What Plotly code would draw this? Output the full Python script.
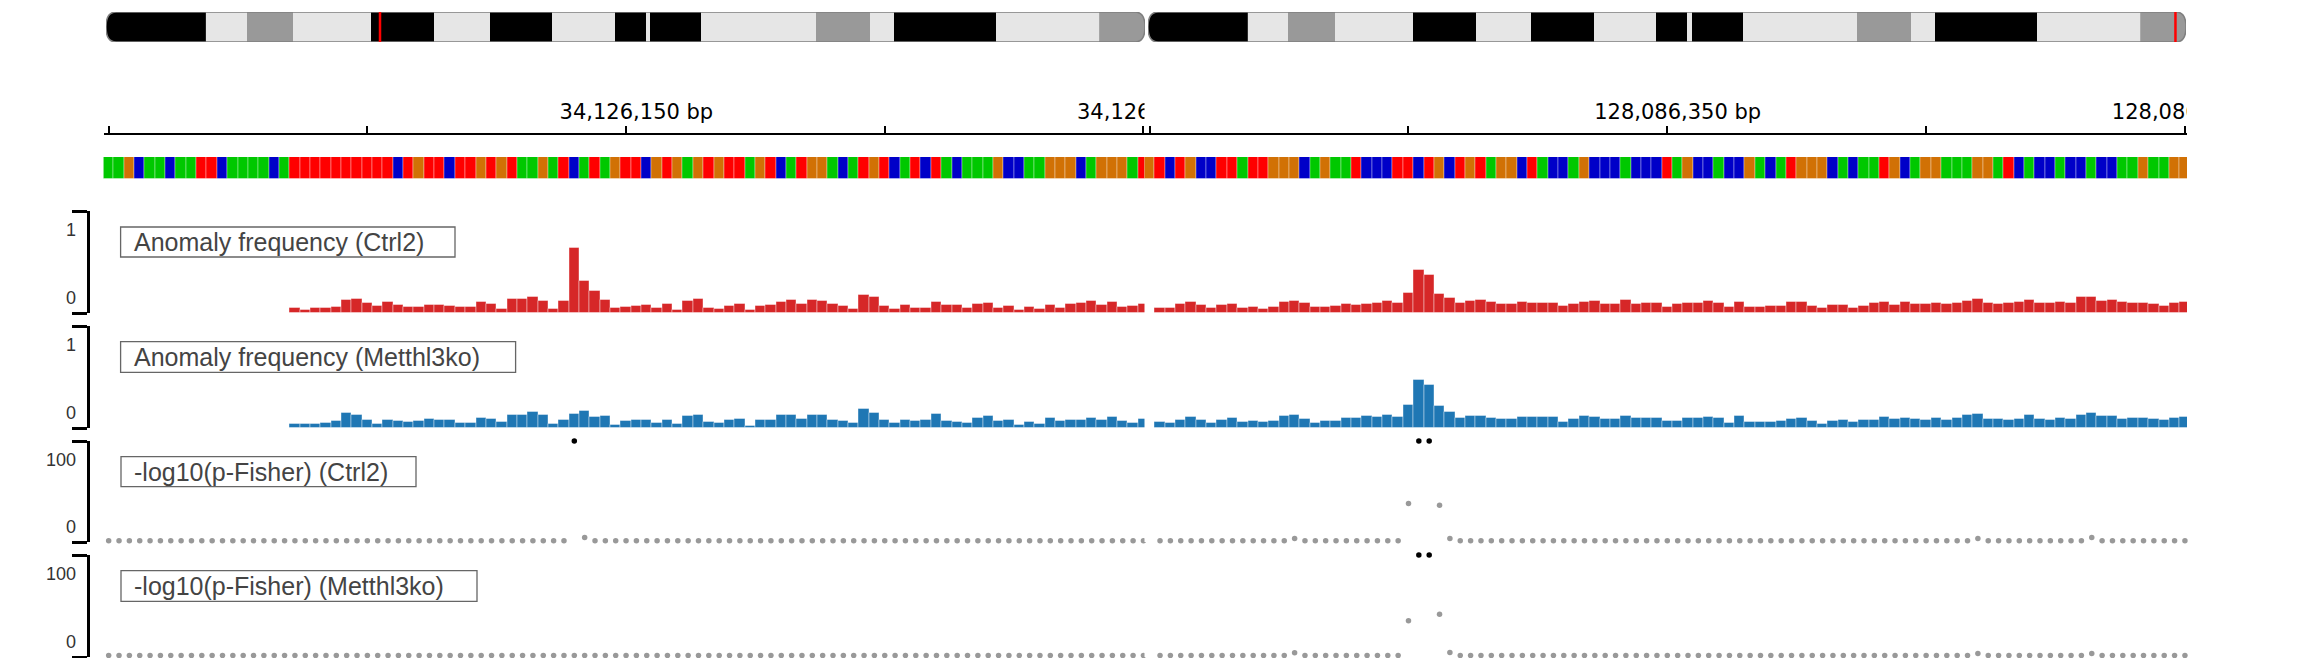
import plotly.graph_objects as go

W, H = 2310, 658

# ------------------------------------------------------------------
# data
# ------------------------------------------------------------------
# chromosome ideogram (chr8, Mb)
CHROM_LEN_MB = 129.401213
BAND_START_MB = [0.0, 12.44, 17.50, 23.31, 33.06, 40.89, 47.80, 55.54, 63.37,
                 67.24, 67.78, 74.15, 88.42, 95.14, 98.09, 110.79, 123.69]
BAND_END_MB = [12.44, 17.50, 23.31, 33.06, 40.89, 47.80, 55.54, 63.37, 67.24,
               67.78, 74.15, 88.42, 95.14, 98.09, 110.79, 123.69, 129.401213]
BAND_STAIN = ["gpos100", "gneg", "gpos50", "gneg", "gpos100", "gneg", "gpos100",
              "gneg", "gpos100", "gneg", "gpos100", "gneg", "gpos50", "gneg",
              "gpos100", "gneg", "gpos50"]
REGION_MARK_MB = [34.12615, 128.08635]

# ruler
TICKS_L = [34126100, 34126125, 34126150, 34126175, 34126200]
TICKS_R = [128086300, 128086325, 128086350, 128086375, 128086400]
LABEL_POS_L = [34126150, 34126200]
LABEL_POS_R = [128086350, 128086400]
LABEL_TXT_L = ["34,126,150 bp", "34,126,200 bp"]
LABEL_TXT_R = ["128,086,350 bp", "128,086,400 bp"]

# reference sequence
SEQ_START_L = 34126100
SEQ_START_R = 128086300
SEQ_L = ("AAGCAACAATTCAAAACA" "TTTTTTTTTT" "CTGTTCTTGTGT" "AAGATCATAG"
         "TTCGTGAGTG" "TTAGTCATGG" "ACATGTCATC" "TACAAAGCCA" "AGGGCAGGGAT")
SEQ_R = ("GTCTGCCTTA" "TTGGGCAGAA" "TCCCTTCTGC" "TGTAGGCTAC" "CAGCCCACCC"
         "TAGCCACCGA" "CATGGGCACA" "ATGCAGGAAA" "GGATCACCAC" "CACCAAGAAGG")

# anomaly frequency
FREQ_START_L = 34126118
FREQ_START_R = 128086301
CTRL2_FREQ_L = [
    0.046, 0.029, 0.046, 0.046, 0.059, 0.131, 0.141, 0.095, 0.072, 0.111,
    0.082, 0.056, 0.056, 0.075, 0.082, 0.069, 0.056, 0.062, 0.105, 0.085,
    0.042, 0.137, 0.137, 0.160, 0.114, 0.039, 0.118, 0.634, 0.317, 0.216,
    0.131, 0.046, 0.059, 0.069, 0.082, 0.046, 0.092, 0.026, 0.121, 0.134,
    0.052, 0.039, 0.069,
    0.092, 0.029, 0.069, 0.082, 0.111, 0.124, 0.092, 0.131, 0.121, 0.092,
    0.065, 0.036, 0.180, 0.154, 0.072, 0.039, 0.078, 0.046, 0.052, 0.105,
    0.075, 0.078, 0.046, 0.088, 0.101, 0.052, 0.065, 0.026, 0.059, 0.039,
    0.082, 0.052, 0.085, 0.101, 0.114, 0.078, 0.105, 0.059, 0.065, 0.092,
]
METTL_FREQ_L = [
    0.039, 0.039, 0.039, 0.052, 0.072, 0.144, 0.131, 0.082, 0.042, 0.075,
    0.072, 0.056, 0.069, 0.092, 0.078, 0.075, 0.049, 0.052, 0.101, 0.088,
    0.056, 0.127, 0.124, 0.154, 0.124, 0.042, 0.078, 0.134, 0.163, 0.105,
    0.114, 0.029, 0.069, 0.078, 0.078, 0.049, 0.082, 0.036, 0.121, 0.124,
    0.056, 0.046, 0.080,
    0.092, 0.023, 0.078, 0.078, 0.131, 0.131, 0.092, 0.127, 0.124, 0.082,
    0.065, 0.046, 0.190, 0.147, 0.075, 0.052, 0.075, 0.069, 0.078, 0.134,
    0.069, 0.059, 0.049, 0.095, 0.121, 0.072, 0.082, 0.033, 0.059, 0.042,
    0.098, 0.065, 0.082, 0.082, 0.095, 0.082, 0.111, 0.072, 0.052, 0.085,
]
CTRL2_FREQ_R = [
    0.052, 0.046, 0.085, 0.105, 0.078, 0.052, 0.075, 0.085, 0.049, 0.056,
    0.039, 0.059, 0.108, 0.118, 0.098, 0.059, 0.062, 0.065, 0.092, 0.078,
    0.092, 0.095, 0.118, 0.095, 0.196, 0.425, 0.373, 0.190, 0.144, 0.095,
    0.114, 0.124, 0.105, 0.085, 0.088, 0.111, 0.101, 0.101, 0.101, 0.065,
    0.088, 0.111, 0.121, 0.092, 0.092, 0.124, 0.092, 0.101, 0.095, 0.059,
    0.085, 0.095, 0.101, 0.118, 0.095, 0.056, 0.111, 0.062, 0.056, 0.065,
    0.072, 0.105, 0.105, 0.065, 0.046, 0.078, 0.075, 0.049, 0.065, 0.101,
    0.105, 0.078, 0.105, 0.092, 0.092, 0.098, 0.092, 0.095, 0.121, 0.141,
    0.098, 0.092, 0.098, 0.105, 0.124, 0.098, 0.101, 0.105, 0.098, 0.154,
    0.154, 0.121, 0.131, 0.105, 0.098, 0.098, 0.092, 0.072, 0.098, 0.105,
]
METTL_FREQ_R = [
    0.056, 0.046, 0.082, 0.111, 0.075, 0.049, 0.082, 0.101, 0.056, 0.069,
    0.056, 0.065, 0.114, 0.124, 0.088, 0.052, 0.069, 0.072, 0.098, 0.095,
    0.121, 0.108, 0.131, 0.105, 0.225, 0.467, 0.425, 0.212, 0.160, 0.098,
    0.121, 0.121, 0.101, 0.085, 0.085, 0.111, 0.111, 0.105, 0.105, 0.059,
    0.092, 0.121, 0.111, 0.088, 0.092, 0.121, 0.095, 0.101, 0.101, 0.069,
    0.072, 0.101, 0.101, 0.111, 0.098, 0.052, 0.114, 0.059, 0.059, 0.059,
    0.065, 0.092, 0.098, 0.072, 0.039, 0.072, 0.082, 0.059, 0.082, 0.082,
    0.111, 0.092, 0.101, 0.088, 0.082, 0.098, 0.082, 0.098, 0.124, 0.137,
    0.085, 0.092, 0.082, 0.088, 0.124, 0.092, 0.078, 0.101, 0.092, 0.131,
    0.147, 0.121, 0.121, 0.092, 0.095, 0.095, 0.092, 0.075, 0.095, 0.111,
]

# -log10(p-Fisher)
PVAL_START_L = 34126100
PVAL_START_R = 128086301
P_CTRL2_L = [
    1.3, 1.3, 1.3, 1.3, 1.3, 1.3, 1.3, 1.3, 1.3, 1.3,
    1.3, 1.3, 1.3, 1.3, 1.3, 1.3, 1.3, 1.3, 1.3, 1.3,
    1.3, 1.3, 1.3, 1.3, 1.3, 1.3, 1.3, 1.3, 1.3, 1.3,
    1.3, 1.3, 1.3, 1.3, 1.3, 1.3, 1.3, 1.3, 1.3, 1.3,
    1.3, 1.3, 1.3, 1.3, 1.3, 180.0, 4.5, 1.3, 1.3, 1.3,
    1.3, 1.3, 1.3, 1.3, 1.3, 1.3, 1.3, 1.3, 1.3, 1.3,
    1.3, 1.3, 1.3, 1.3, 1.3, 1.3, 1.3, 1.3, 1.3, 1.3,
    1.3, 1.3, 1.3, 1.3, 1.3, 1.3, 1.3, 1.3, 1.3, 1.3,
    1.3, 1.3, 1.3, 1.3, 1.3, 1.3, 1.3, 1.3, 1.3, 1.3,
    1.3, 1.3, 1.3, 1.3, 1.3, 1.3, 1.3, 1.3, 1.3, 1.3,
    1.3,
]
P_METTL_L = [
    1.5, 1.5, 1.5, 1.5, 1.5, 1.5, 1.5, 1.5, 1.5, 1.5,
    1.5, 1.5, 1.5, 1.5, 1.5, 1.5, 1.5, 1.5, 1.5, 1.5,
    1.5, 1.5, 1.5, 1.5, 1.5, 1.5, 1.5, 1.5, 1.5, 1.5,
    1.5, 1.5, 1.5, 1.5, 1.5, 1.5, 1.5, 1.5, 1.5, 1.5,
    1.5, 1.5, 1.5, 1.5, 1.5, 1.5, 1.5, 1.5, 1.5, 1.5,
    1.5, 1.5, 1.5, 1.5, 1.5, 1.5, 1.5, 1.5, 1.5, 1.5,
    1.5, 1.5, 1.5, 1.5, 1.5, 1.5, 1.5, 1.5, 1.5, 1.5,
    1.5, 1.5, 1.5, 1.5, 1.5, 1.5, 1.5, 1.5, 1.5, 1.5,
    1.5, 1.5, 1.5, 1.5, 1.5, 1.5, 1.5, 1.5, 1.5, 1.5,
    1.5, 1.5, 1.5, 1.5, 1.5, 1.5, 1.5, 1.5, 1.5, 1.5,
    1.5,
]
P_CTRL2_R = [
    1.3, 1.3, 1.3, 1.3, 1.3, 1.3, 1.3, 1.3, 1.3, 1.3,
    1.3, 1.3, 1.3, 3.5, 1.3, 1.3, 1.3, 1.3, 1.3, 1.3,
    1.3, 1.3, 1.3, 1.3, 38.0, 170.0, 160.0, 36.5, 3.5, 1.3,
    1.3, 1.3, 1.3, 1.3, 1.3, 1.3, 1.3, 1.3, 1.3, 1.3,
    1.3, 1.3, 1.3, 1.3, 1.3, 1.3, 1.3, 1.3, 1.3, 1.3,
    1.3, 1.3, 1.3, 1.3, 1.3, 1.3, 1.3, 1.3, 1.3, 1.3,
    1.3, 1.3, 1.3, 1.3, 1.3, 1.3, 1.3, 1.3, 1.3, 1.3,
    1.3, 1.3, 1.3, 1.3, 1.3, 1.3, 1.3, 1.3, 1.3, 3.5,
    1.3, 1.3, 1.3, 1.3, 1.3, 1.3, 1.3, 1.3, 1.3, 1.3,
    4.5, 1.3, 1.3, 1.3, 1.3, 1.3, 1.3, 1.3, 1.3, 1.3,
]
P_METTL_R = [
    1.5, 1.5, 1.5, 1.5, 1.5, 1.5, 1.5, 1.5, 1.5, 1.5,
    1.5, 1.5, 1.5, 4.2, 1.5, 1.5, 1.5, 1.5, 1.5, 1.5,
    1.5, 1.5, 1.5, 1.5, 35.6, 190.0, 175.0, 42.0, 4.5, 1.5,
    1.5, 1.5, 1.5, 1.5, 1.5, 1.5, 1.5, 1.5, 1.5, 1.5,
    1.5, 1.5, 1.5, 1.5, 1.5, 1.5, 1.5, 1.5, 1.5, 1.5,
    1.5, 1.5, 1.5, 1.5, 1.5, 1.5, 1.5, 1.5, 1.5, 1.5,
    1.5, 1.5, 1.5, 1.5, 1.5, 1.5, 1.5, 1.5, 1.5, 1.5,
    1.5, 1.5, 1.5, 1.5, 1.5, 1.5, 1.5, 1.5, 1.5, 3.5,
    1.5, 1.5, 1.5, 1.5, 1.5, 1.5, 1.5, 1.5, 1.5, 1.5,
    3.5, 1.5, 1.5, 1.5, 1.5, 1.5, 1.5, 1.5, 1.5, 1.5,
]

TRACK_NAMES = ["Anomaly frequency (Ctrl2)", "Anomaly frequency (Metthl3ko)",
               "-log10(p-Fisher) (Ctrl2)", "-log10(p-Fisher) (Metthl3ko)"]
FREQ_MAX = 1
PVAL_MAX = 100

# ------------------------------------------------------------------
# styles / layout geometry (pixels)
# ------------------------------------------------------------------
STAIN_COLOR = {"gpos100": "#000000", "gneg": "#e6e6e6", "gpos50": "#999999"}
BASE_COLOR = {"A": "#00c800", "C": "#0000c8", "G": "#d17105", "T": "#ff0000"}
RED = "#d62728"
BLUE = "#1f77b4"
DOT_GREY = "#999999"
LABEL_SHIFT_BP = 1  # ruler labels sit a little right of their tick

COLS = ["L", "R"]
ROWS = ["ideo", "ruler", "seq", "t1", "t2", "t3", "t4"]
ROW_PX = {"ideo": (12, 42), "ruler": (95, 133), "seq": (157, 179),
          "t1": (211, 313), "t2": (326, 428), "t3": (441, 542), "t4": (555, 657)}
COL_PX = {"L": (103.5, 1145.5), "R": (1144.5, 2187)}
IDEO_PX = {"L": (106, 1145), "R": (1148, 2186)}
XRANGE = {"L": [34126099.5, 34126200.2], "R": [128086299.5, 128086400.2]}


def fx(p):
    return p / W


def fy(p):
    return 1 - p / H


def ax_n(row, col):
    return ROWS.index(row) * 2 + COLS.index(col) + 1


def ref(letter, n):
    return letter if n == 1 else f"{letter}{n}"


def key(letter, n):
    return f"{letter}axis" if n == 1 else f"{letter}axis{n}"


fig = go.Figure()
layout_axes = {}
hidden = dict(visible=False, showgrid=False, zeroline=False, fixedrange=True)

for row in ROWS:
    for col in COLS:
        n = ax_n(row, col)
        xpx = IDEO_PX[col] if row == "ideo" else COL_PX[col]
        xa = dict(hidden, domain=[fx(xpx[0]), fx(xpx[1])], anchor=ref("y", n))
        ya = dict(hidden, domain=[fy(ROW_PX[row][1]), fy(ROW_PX[row][0])],
                  anchor=ref("x", n))
        if row == "ideo":
            xa["range"] = [0, CHROM_LEN_MB]
            ya["range"] = [-0.5, 0.5]
        else:
            xa["range"] = XRANGE[col]
        if row in ("ruler", "seq"):
            ya["range"] = [0, 1]
        if row == "ruler":
            xa.update(visible=True, showline=True, linecolor="black", linewidth=2,
                      ticks="inside", ticklen=7, tickwidth=1.5, tickcolor="black",
                      tickvals=TICKS_L if col == "L" else TICKS_R,
                      showticklabels=False)
        if row in ("t1", "t2", "t3", "t4"):
            top = FREQ_MAX if row in ("t1", "t2") else PVAL_MAX
            ya["range"] = [0, top]
            if col == "L":
                ya.update(visible=True, anchor="free", position=fx(88), side="left",
                          showline=True, linecolor="black", linewidth=2.5,
                          ticks="outside", ticklen=15, tickwidth=2.5,
                          tickcolor="black", tickvals=[0, top],
                          showticklabels=False)
        layout_axes[key("x", n)] = xa
        layout_axes[key("y", n)] = ya

shapes = []

# --- ideograms ---
r_cap = 1.25  # Mb, rounding of chromosome ends
for col, mark in zip(COLS, REGION_MARK_MB):
    n = ax_n("ideo", col)
    xr, yr = ref("x", n), ref("y", n)
    mid = list(range(1, len(BAND_STAIN) - 1))
    fig.add_trace(go.Bar(
        y=[0] * len(mid),
        x=[BAND_END_MB[i] - BAND_START_MB[i] for i in mid],
        base=[BAND_START_MB[i] for i in mid],
        orientation="h", width=1,
        marker=dict(color=[STAIN_COLOR[BAND_STAIN[i]] for i in mid],
                    line=dict(width=0)),
        xaxis=xr, yaxis=yr, hoverinfo="skip",
    ))
    s0, e0 = BAND_START_MB[0], BAND_END_MB[0]
    s1, e1 = BAND_START_MB[-1], BAND_END_MB[-1]
    shapes.append(dict(
        type="path", xref=xr, yref=yr, layer="above",
        path=(f"M {e0},-0.5 L {s0 + r_cap},-0.5 Q {s0},-0.5 {s0},0 "
              f"Q {s0},0.5 {s0 + r_cap},0.5 L {e0},0.5 Z"),
        fillcolor=STAIN_COLOR[BAND_STAIN[0]], line=dict(width=0)))
    shapes.append(dict(
        type="path", xref=xr, yref=yr, layer="above",
        path=(f"M {s1},-0.5 L {e1 - r_cap},-0.5 Q {e1},-0.5 {e1},0 "
              f"Q {e1},0.5 {e1 - r_cap},0.5 L {s1},0.5 Z"),
        fillcolor=STAIN_COLOR[BAND_STAIN[-1]], line=dict(width=0)))
    shapes.append(dict(
        type="path", xref=xr, yref=yr, layer="above",
        path=(f"M {s0 + r_cap},-0.5 L {e1 - r_cap},-0.5 Q {e1},-0.5 {e1},0 "
              f"Q {e1},0.5 {e1 - r_cap},0.5 L {s0 + r_cap},0.5 "
              f"Q {s0},0.5 {s0},0 Q {s0},-0.5 {s0 + r_cap},-0.5 Z"),
        fillcolor="rgba(0,0,0,0)", line=dict(color="#7f7f7f", width=1.5)))
    shapes.append(dict(
        type="line", xref=xr, yref=yr, layer="above",
        x0=mark, x1=mark, y0=-0.5, y1=0.5,
        line=dict(color="#ff0000", width=2.5)))

# --- ruler labels (clipped to each panel) ---
for col, pos, txt in (("L", LABEL_POS_L, LABEL_TXT_L), ("R", LABEL_POS_R, LABEL_TXT_R)):
    n = ax_n("ruler", col)
    fig.add_trace(go.Scatter(
        x=[p + LABEL_SHIFT_BP for p in pos], y=[0.5] * len(pos), mode="text",
        text=txt, textposition="middle center", cliponaxis=True,
        textfont=dict(family="DejaVu Sans", size=21, color="black"),
        xaxis=ref("x", n), yaxis=ref("y", n), hoverinfo="skip",
    ))

# --- sequence ---
for col, start, seq in (("L", SEQ_START_L, SEQ_L), ("R", SEQ_START_R, SEQ_R)):
    n = ax_n("seq", col)
    fig.add_trace(go.Bar(
        x=[start + i for i in range(len(seq))], y=[1] * len(seq), width=1,
        marker=dict(color=[BASE_COLOR[b] for b in seq],
                    line=dict(color="rgba(255,255,255,0.35)", width=1)),
        xaxis=ref("x", n), yaxis=ref("y", n), hovertext=list(seq),
        hoverinfo="text",
    ))

# --- anomaly frequency bars ---
freq_sets = [
    ("t1", "L", FREQ_START_L, CTRL2_FREQ_L, RED),
    ("t1", "R", FREQ_START_R, CTRL2_FREQ_R, RED),
    ("t2", "L", FREQ_START_L, METTL_FREQ_L, BLUE),
    ("t2", "R", FREQ_START_R, METTL_FREQ_R, BLUE),
]
for row, col, start, vals, color in freq_sets:
    n = ax_n(row, col)
    fig.add_trace(go.Bar(
        x=[start + i for i in range(len(vals))], y=vals, width=1,
        marker=dict(color=color, line=dict(color="rgba(255,255,255,0.4)", width=1)),
        xaxis=ref("x", n), yaxis=ref("y", n),
    ))

# --- -log10(p) dots (values above the range drawn in black at the top) ---
pval_sets = [
    ("t3", "L", PVAL_START_L, P_CTRL2_L),
    ("t3", "R", PVAL_START_R, P_CTRL2_R),
    ("t4", "L", PVAL_START_L, P_METTL_L),
    ("t4", "R", PVAL_START_R, P_METTL_R),
]
for row, col, start, vals in pval_sets:
    n = ax_n(row, col)
    fig.add_trace(go.Scatter(
        x=[start + i for i in range(len(vals))],
        y=[min(v, PVAL_MAX) for v in vals],
        mode="markers", cliponaxis=False,
        marker=dict(size=5.5, color=["black" if v > PVAL_MAX else DOT_GREY for v in vals],
                    line=dict(width=0)),
        xaxis=ref("x", n), yaxis=ref("y", n),
    ))

# --- track name boxes and data-range labels ---
annotations = []
box_px = {"t1": (120.6, 455, 227, 257), "t2": (120.6, 515.6, 341.7, 372.3),
          "t3": (121, 416, 456.7, 486.7), "t4": (121, 477, 570.7, 601.3)}
for row, name in zip(["t1", "t2", "t3", "t4"], TRACK_NAMES):
    x0, x1, y0, y1 = box_px[row]
    shapes.append(dict(type="rect", xref="paper", yref="paper",
                       x0=fx(x0), x1=fx(x1), y0=fy(y1), y1=fy(y0),
                       line=dict(color="#666666", width=1.3),
                       fillcolor="rgba(255,255,255,0)"))
    annotations.append(dict(
        xref="paper", yref="paper", x=fx(x0 + 11), y=fy((y0 + y1) / 2),
        xanchor="left", yanchor="middle", showarrow=False, text=name,
        font=dict(family="Liberation Sans, Arial", size=25, color="#444444")))
    n = ax_n(row, "L")
    top_txt = "1" if row in ("t1", "t2") else "100"
    for yy, txt in ((0.81, top_txt), (0.145, "0")):
        annotations.append(dict(
            xref="paper", yref=f"{ref('y', n)} domain", x=fx(78), y=yy,
            xanchor="right", yanchor="middle", showarrow=False, text=txt,
            font=dict(family="Liberation Sans, Arial", size=18, color="#333333")))

fig.update_layout(
    width=W, height=H,
    margin=dict(l=0, r=0, t=0, b=0),
    paper_bgcolor="white", plot_bgcolor="white",
    showlegend=False, bargap=0,
    shapes=shapes, annotations=annotations,
    **layout_axes,
)

# the page body has a default 8px margin; drop it so the figure fills the window
fig.write_html("out.html", config={"displayModeBar": False},
               post_script="document.body.style.margin = '0';")
